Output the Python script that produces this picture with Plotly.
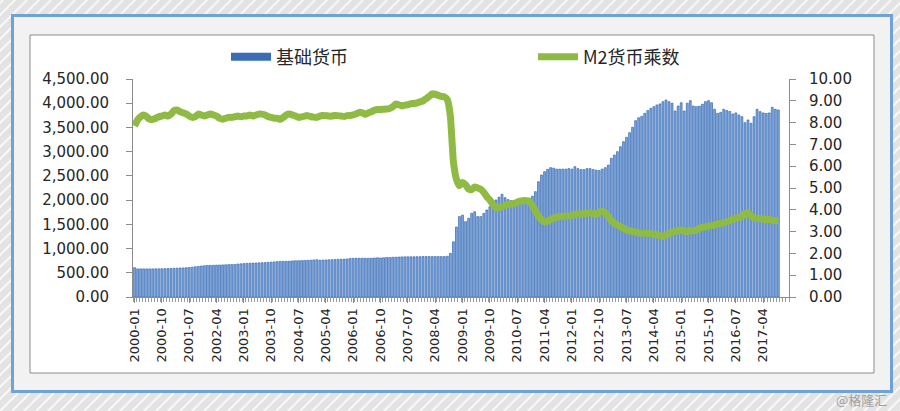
import plotly.graph_objects as go

# ---------------- data ----------------
months = [f"{y}-{m:02d}" for y in range(2000, 2018) for m in range(1, 13)]  # axis categories (2000-01 .. 2017-12)

base_money = [
    605, 580, 580, 580, 580, 580, 580, 582, 582, 583, 585, 588,          # 2000
    590, 592, 595, 598, 600, 605, 610, 615, 625, 630, 640, 645,          # 2001
    650, 652, 655, 658, 660, 662, 665, 668, 670, 672, 680, 685,          # 2002
    690, 695, 698, 700, 702, 705, 708, 710, 715, 720, 725, 730,          # 2003
    735, 735, 738, 740, 745, 748, 750, 752, 755, 758, 760, 765,          # 2004
    770, 760, 762, 765, 768, 770, 775, 778, 780, 782, 785, 795,          # 2005
    798, 800, 800, 800, 800, 800, 800, 805, 810, 805, 810, 815,          # 2006
    815, 820, 822, 825, 828, 830, 830, 830, 830, 832, 832, 835,          # 2007
    835, 835, 835, 835, 835, 835, 835, 840, 900, 1140, 1445, 1660,       # 2008
    1690, 1555, 1625, 1727, 1760, 1660, 1660, 1727, 1796, 1864, 1934, 2002,  # 2009
    2060, 2120, 2050, 2010, 1990, 1990, 2000, 2000, 2010, 2020, 2040, 2080,  # 2010
    2174, 2380, 2518, 2587, 2635, 2670, 2660, 2640, 2640, 2640, 2640, 2650,  # 2011
    2640, 2690, 2650, 2630, 2630, 2650, 2650, 2630, 2620, 2610, 2640, 2670,  # 2012
    2725, 2863, 2931, 3000, 3103, 3206, 3297, 3392, 3503, 3640, 3700, 3730,  # 2013
    3790, 3850, 3895, 3929, 3964, 3985, 4032, 4067, 4032, 4000, 3840, 3943,  # 2014
    4011, 3840, 4000, 4053, 3943, 3929, 3940, 3980, 4032, 4053, 4010, 3875,  # 2015
    3792, 3810, 3875, 3850, 3830, 3778, 3800, 3757, 3722, 3598, 3654, 3585,  # 2016
    3722, 3875, 3826, 3800, 3790, 3800, 3915, 3875, 3860,                    # 2017
]

m2_multiplier = [
    7.85, 8.12, 8.27, 8.35, 8.27, 8.15, 8.15, 8.20, 8.27, 8.30, 8.35, 8.30,  # 2000
    8.39, 8.55, 8.58, 8.50, 8.45, 8.40, 8.30, 8.24, 8.27, 8.39, 8.35, 8.30,  # 2001
    8.35, 8.39, 8.35, 8.30, 8.20, 8.15, 8.20, 8.24, 8.24, 8.27, 8.30, 8.27,  # 2002
    8.30, 8.30, 8.35, 8.30, 8.35, 8.39, 8.39, 8.35, 8.27, 8.24, 8.20, 8.20,  # 2003
    8.15, 8.24, 8.35, 8.39, 8.35, 8.30, 8.24, 8.26, 8.30, 8.32, 8.28, 8.25,  # 2004
    8.24, 8.30, 8.33, 8.32, 8.30, 8.30, 8.33, 8.32, 8.30, 8.28, 8.32, 8.33,  # 2005
    8.35, 8.40, 8.47, 8.45, 8.38, 8.45, 8.50, 8.57, 8.60, 8.60, 8.61, 8.62,  # 2006
    8.65, 8.72, 8.85, 8.82, 8.76, 8.80, 8.82, 8.87, 8.88, 8.90, 8.95, 9.00,  # 2007
    9.10, 9.20, 9.32, 9.30, 9.25, 9.20, 9.18, 9.05, 8.30, 6.20, 5.40, 5.10,  # 2008
    5.25, 5.15, 4.95, 4.92, 5.05, 5.00, 4.95, 4.80, 4.60, 4.45, 4.25, 4.10,  # 2009
    4.10, 4.15, 4.20, 4.25, 4.27, 4.30, 4.35, 4.40, 4.42, 4.42, 4.38, 4.20,  # 2010
    3.95, 3.72, 3.55, 3.45, 3.48, 3.55, 3.62, 3.66, 3.68, 3.70, 3.72, 3.70,  # 2011
    3.75, 3.78, 3.82, 3.80, 3.82, 3.84, 3.86, 3.82, 3.78, 3.88, 3.93, 3.85,  # 2012
    3.70, 3.50, 3.38, 3.30, 3.22, 3.15, 3.08, 3.03, 3.00, 2.98, 2.95, 2.93,  # 2013
    2.92, 2.92, 2.90, 2.88, 2.85, 2.82, 2.78, 2.85, 2.92, 2.98, 3.00, 3.05,  # 2014
    3.07, 3.02, 3.00, 3.05, 3.03, 3.07, 3.15, 3.20, 3.22, 3.25, 3.28, 3.30,  # 2015
    3.35, 3.38, 3.41, 3.45, 3.50, 3.58, 3.62, 3.65, 3.70, 3.82, 3.87, 3.72,  # 2016
    3.62, 3.60, 3.60, 3.58, 3.55, 3.56, 3.52, 3.50, 3.48,                    # 2017
]

tick_labels = months[0:208:9]  # 2000-01, 2000-10, ... 2017-04

# ---------------- layout helpers (pixel -> paper) ----------------
W, H = 900, 411
PL, PR, PT, PB = 133, 789, 79, 297
def px(x):
    return (x - PL) / (PR - PL)
def py(y):
    return (PB - y) / (PB - PT)

idx = list(range(len(months)))
tick_pos = [months.index(t) for t in tick_labels]

BAR_FILL = "#80a9de"
BAR_EDGE = "#3567b0"
LINE_COL = "#8fbb45"

fig = go.Figure()
fig.add_trace(go.Bar(
    x=idx[:len(base_money)], y=base_money, name="基础货币",
    marker=dict(color=BAR_FILL, line=dict(color=BAR_EDGE, width=0.7)),
    yaxis="y", showlegend=False, legendgroup="base",
))
# legend key for the bar series (wide flat rectangle as in the original)
fig.add_trace(go.Scatter(
    x=[None], y=[None], name="基础货币", mode="lines",
    line=dict(color="#3a6db5", width=8), legendgroup="base", yaxis="y",
))
fig.add_trace(go.Scatter(
    x=idx[:len(m2_multiplier)], y=m2_multiplier, name="M2货币乘数",
    mode="lines", line=dict(color=LINE_COL, width=7, shape="spline", smoothing=0.4),
    yaxis="y2",
))

shapes = []
# diagonal background stripes
for k in range(-60, 100):
    x0 = k * 12
    shapes.append(dict(type="line", xref="paper", yref="paper",
                       x0=px(x0), y0=py(H), x1=px(x0 + H), y1=py(0),
                       line=dict(color="rgba(255,255,255,0.75)", width=2), layer="below"))
# blue frame
shapes.append(dict(type="rect", xref="paper", yref="paper",
                   x0=px(12.5), y0=py(391.5), x1=px(891.5), y1=py(15.5),
                   fillcolor="#f2f2f2", line=dict(color="#6fa3d8", width=3), layer="below"))
# white chart area
shapes.append(dict(type="rect", xref="paper", yref="paper",
                   x0=px(30), y0=py(373), x1=px(874), y1=py(35),
                   fillcolor="#ffffff", line=dict(color="#8c8c8c", width=1), layer="below"))

tickfont = dict(family="DejaVu Sans, Noto Sans CJK SC", size=15, color="#262626")

fig.update_layout(
    width=W, height=H,
    margin=dict(l=PL, r=W - PR, t=PT, b=H - PB),
    paper_bgcolor="#e3e3e3",
    plot_bgcolor="rgba(0,0,0,0)",
    shapes=shapes,
    bargap=0.38,
    showlegend=True,
    legend=dict(orientation="h", x=px(226), y=py(57), xanchor="left", yanchor="middle",
                font=dict(family="Noto Sans CJK SC, DejaVu Sans", size=18, color="#262626"),
                entrywidth=252, entrywidthmode="pixels", itemwidth=40,
                bgcolor="rgba(0,0,0,0)", traceorder="normal"),
    xaxis=dict(
        range=[-0.5, len(months) - 0.5],
        tickmode="array", tickvals=tick_pos, ticktext=tick_labels,
        tickangle=-90, tickfont=dict(family="DejaVu Sans", size=13, color="#262626"),
        ticks="outside", ticklen=5, tickcolor="#8c8c8c",
        minor=dict(tickmode="linear", tick0=0.5, dtick=1, ticks="outside", ticklen=4, tickcolor="#9a9a9a"),
        showline=True, linecolor="#8c8c8c", linewidth=1,
        showgrid=False, zeroline=False,
    ),
    yaxis=dict(
        range=[0, 4500], dtick=500, tickformat=",.2f",
        tickfont=tickfont, ticks="outside", ticklen=6, tickcolor="#8c8c8c",
        ticklabelstandoff=14,
        showline=True, linecolor="#8c8c8c", linewidth=1,
        showgrid=False, zeroline=False,
    ),
    yaxis2=dict(
        range=[0, 10], dtick=1, tickformat=".2f", overlaying="y", side="right",
        tickfont=tickfont, ticks="outside", ticklen=6, tickcolor="#8c8c8c",
        ticklabelstandoff=10,
        showline=True, linecolor="#8c8c8c", linewidth=1,
        showgrid=False, zeroline=False,
    ),
    annotations=[dict(text="@格隆汇", xref="paper", yref="paper", x=px(889), y=py(399),
                      xanchor="right", yanchor="middle", showarrow=False,
                      font=dict(family="Noto Sans CJK SC", size=13, color="#a0a0a0"))],
)

fig.write_html("out.html")
